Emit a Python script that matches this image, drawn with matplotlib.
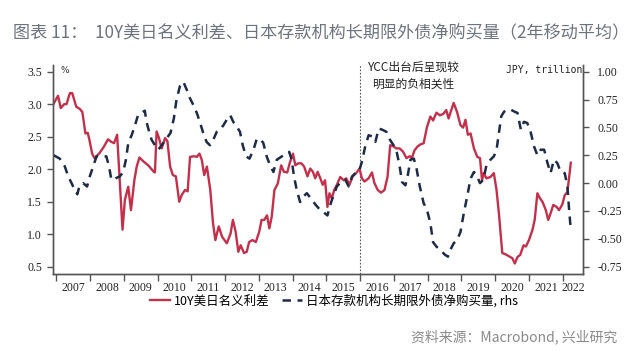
import matplotlib
matplotlib.use("Agg")
import matplotlib.pyplot as plt
from matplotlib.ticker import FixedLocator, NullFormatter, FixedFormatter

plt.rcParams['font.family'] = ['Noto Sans CJK SC', 'DejaVu Sans']

# 10Y US-JP nominal spread (%), left axis
spread_t = [2006.92, 2007.05, 2007.13, 2007.23, 2007.30, 2007.40, 2007.47, 2007.59, 2007.69, 2007.77,
            2007.86, 2007.93, 2007.98, 2008.06, 2008.13, 2008.28, 2008.40, 2008.53, 2008.63, 2008.71,
            2008.80, 2008.86, 2008.96, 2009.03, 2009.13, 2009.21, 2009.31, 2009.38, 2009.46, 2009.58,
            2009.72, 2009.87, 2009.92, 2009.97, 2010.04, 2010.12, 2010.22, 2010.29, 2010.37, 2010.45,
            2010.54, 2010.64, 2010.71, 2010.81, 2010.89, 2010.96, 2011.08, 2011.16, 2011.24, 2011.31,
            2011.38, 2011.46, 2011.56, 2011.64, 2011.71, 2011.81, 2011.91, 2012.05, 2012.16, 2012.23,
            2012.31, 2012.39, 2012.46, 2012.56, 2012.64, 2012.71, 2012.81, 2012.91, 2013.01, 2013.08,
            2013.16, 2013.24, 2013.31, 2013.38, 2013.46, 2013.56, 2013.66, 2013.74, 2013.84, 2013.91,
            2014.01, 2014.08, 2014.16, 2014.26, 2014.34, 2014.44, 2014.52, 2014.60, 2014.67, 2014.74,
            2014.82, 2014.89, 2014.96, 2015.03, 2015.09, 2015.16, 2015.23, 2015.31, 2015.41, 2015.51,
            2015.59, 2015.68, 2015.78, 2015.88, 2015.98, 2016.05, 2016.13, 2016.25, 2016.35, 2016.42,
            2016.52, 2016.62, 2016.72, 2016.81, 2016.89, 2016.99, 2017.07, 2017.17, 2017.27, 2017.37,
            2017.47, 2017.53, 2017.61, 2017.70, 2017.78, 2017.88, 2017.98, 2018.08, 2018.16, 2018.26,
            2018.36, 2018.46, 2018.55, 2018.62, 2018.68, 2018.77, 2018.87, 2018.97, 2019.05, 2019.12,
            2019.19, 2019.27, 2019.37, 2019.47, 2019.55, 2019.61, 2019.66, 2019.74, 2019.86, 2019.96,
            2020.04, 2020.11, 2020.21, 2020.31, 2020.41, 2020.51, 2020.58, 2020.66, 2020.74, 2020.84,
            2020.91, 2021.00, 2021.10, 2021.17, 2021.25, 2021.33, 2021.40, 2021.50, 2021.57, 2021.64,
            2021.72, 2021.82, 2021.89, 2021.99, 2022.06, 2022.14, 2022.24]
spread = [3.01, 3.13, 2.94, 3.00, 3.00, 3.17, 3.17, 2.96, 2.93, 2.88,
          2.55, 2.56, 2.45, 2.24, 2.17, 2.25, 2.34, 2.46, 2.42, 2.40,
          2.53, 1.99, 1.07, 1.53, 1.73, 1.37, 1.83, 2.04, 2.18, 2.12,
          2.06, 1.97, 1.95, 2.58, 2.48, 2.32, 2.48, 2.43, 2.04, 1.91,
          1.89, 1.50, 1.60, 1.68, 1.66, 2.19, 2.20, 2.19, 2.24, 2.14,
          1.91, 2.04, 1.68, 1.17, 0.91, 1.12, 0.96, 0.86, 1.01, 1.22,
          1.04, 0.73, 0.83, 0.71, 0.73, 0.88, 0.91, 0.88, 1.04, 1.22,
          1.22, 1.29, 1.09, 1.27, 1.68, 1.78, 2.06, 1.96, 1.95, 2.09,
          2.24, 2.06, 2.09, 2.09, 2.04, 1.89, 2.01, 1.96, 1.86, 1.96,
          1.86, 1.76, 1.83, 1.42, 1.63, 1.55, 1.68, 1.76, 1.88, 1.83,
          1.86, 1.76, 1.89, 1.94, 2.01, 1.86, 1.81, 1.86, 1.95, 1.79,
          1.68, 1.64, 1.68, 1.88, 2.37, 2.35, 2.32, 2.32, 2.27, 2.17,
          2.20, 2.17, 2.29, 2.35, 2.38, 2.40, 2.65, 2.81, 2.75, 2.87,
          2.83, 2.85, 2.91, 2.78, 2.88, 3.02, 2.88, 2.68, 2.64, 2.76,
          2.53, 2.55, 2.32, 2.19, 2.17, 1.83, 1.94, 1.86, 1.88, 1.94,
          1.68, 1.32, 0.71, 0.69, 0.66, 0.63, 0.55, 0.65, 0.68, 0.83,
          0.81, 0.91, 1.06, 1.22, 1.63, 1.55, 1.50, 1.37, 1.22, 1.32,
          1.45, 1.42, 1.37, 1.46, 1.60, 1.65, 2.10]

# Japanese depository institutions' net purchases of long-term foreign bonds (JPY trn), right axis
flow_t = [2006.92, 2007.10, 2007.25, 2007.35, 2007.45, 2007.54, 2007.62, 2007.69, 2007.79, 2007.91,
          2007.99, 2008.09, 2008.19, 2008.29, 2008.38, 2008.48, 2008.56, 2008.63, 2008.73, 2008.88,
          2008.98, 2009.06, 2009.13, 2009.23, 2009.32, 2009.42, 2009.52, 2009.62, 2009.67, 2009.75,
          2009.82, 2009.92, 2010.02, 2010.12, 2010.26, 2010.38, 2010.48, 2010.56, 2010.66, 2010.76,
          2010.86, 2010.96, 2011.06, 2011.16, 2011.25, 2011.35, 2011.45, 2011.55, 2011.65, 2011.75,
          2011.85, 2011.95, 2012.05, 2012.15, 2012.24, 2012.34, 2012.44, 2012.52, 2012.62, 2012.72,
          2012.84, 2012.93, 2013.03, 2013.13, 2013.23, 2013.33, 2013.43, 2013.53, 2013.68, 2013.82,
          2013.90, 2013.97, 2014.04, 2014.12, 2014.22, 2014.32, 2014.42, 2014.52, 2014.67, 2014.81,
          2014.91, 2015.03, 2015.13, 2015.21, 2015.31, 2015.43, 2015.56, 2015.66, 2015.76, 2015.86,
          2015.96, 2016.05, 2016.15, 2016.25, 2016.35, 2016.45, 2016.55, 2016.65, 2016.78, 2016.88,
          2016.99, 2017.09, 2017.17, 2017.24, 2017.34, 2017.41, 2017.49, 2017.59, 2017.67, 2017.76,
          2017.88, 2017.98, 2018.08, 2018.16, 2018.26, 2018.38, 2018.50, 2018.60, 2018.67, 2018.77,
          2018.87, 2018.97, 2019.07, 2019.17, 2019.27, 2019.37, 2019.45, 2019.55, 2019.65, 2019.74,
          2019.86, 2019.96, 2020.04, 2020.11, 2020.18, 2020.26, 2020.36, 2020.46, 2020.58, 2020.66,
          2020.76, 2020.85, 2020.95, 2021.05, 2021.15, 2021.25, 2021.35, 2021.45, 2021.55, 2021.64,
          2021.74, 2021.84, 2021.94, 2022.06, 2022.14, 2022.19, 2022.24]
flow = [0.25, 0.22, 0.15, 0.06, 0.00, -0.06, -0.10, -0.02, 0.00, -0.03,
        0.06, 0.15, 0.24, 0.24, 0.24, 0.24, 0.15, 0.03, 0.04, 0.06,
        0.10, 0.21, 0.36, 0.43, 0.51, 0.61, 0.63, 0.65, 0.55, 0.46,
        0.39, 0.34, 0.30, 0.34, 0.40, 0.45, 0.58, 0.75, 0.87, 0.91,
        0.84, 0.76, 0.70, 0.63, 0.55, 0.45, 0.37, 0.34, 0.39, 0.46,
        0.48, 0.52, 0.57, 0.61, 0.55, 0.51, 0.46, 0.34, 0.24, 0.22,
        0.30, 0.39, 0.40, 0.36, 0.24, 0.16, 0.10, 0.21, 0.24, 0.27,
        0.28, 0.21, 0.06, -0.06, -0.17, -0.12, -0.09, -0.13, -0.19, -0.24,
        -0.26, -0.29, -0.18, -0.11, -0.03, 0.01, 0.03, -0.03, 0.06, 0.09,
        0.10, 0.19, 0.33, 0.43, 0.42, 0.37, 0.49, 0.48, 0.46, 0.39,
        0.34, 0.27, 0.15, 0.01, -0.02, 0.07, 0.21, 0.22, 0.13, -0.02,
        -0.18, -0.24, -0.36, -0.53, -0.57, -0.60, -0.64, -0.66, -0.60, -0.54,
        -0.51, -0.44, -0.27, -0.12, 0.04, 0.10, 0.07, 0.00, 0.03, 0.16,
        0.21, 0.24, 0.30, 0.45, 0.60, 0.64, 0.66, 0.66, 0.64, 0.63,
        0.48, 0.55, 0.54, 0.46, 0.33, 0.25, 0.30, 0.30, 0.18, 0.09,
        0.21, 0.18, 0.10, 0.09, -0.03, -0.24, -0.42]

years = list(range(2007, 2023))
year_labels = [str(y) for y in years]

RED = '#c2304c'
NAVY = '#1e2b47'
AX = '#555555'
serif = 'Liberation Serif'

fig = plt.figure(figsize=(6.4, 3.63), dpi=100)
ax = fig.add_axes([0.0828, 0.2452, 0.8286, 0.5757])
ax2 = ax.twinx()

l1, = ax.plot(spread_t, spread, color=RED, lw=1.7, label='10Y美日名义利差', zorder=3)
l2, = ax2.plot(flow_t, flow, color=NAVY, lw=1.8, dashes=(3.4, 2.6), label='日本存款机构长期限外债净购买量, rhs')

ax.set_xlim(2006.9, 2022.61)
ax.set_ylim(0.388, 3.603)
ax2.set_ylim(-0.8155, 1.06)

ax.set_yticks([0.5, 1.0, 1.5, 2.0, 2.5, 3.0, 3.5])
ax.set_yticklabels(['0.5', '1.0', '1.5', '2.0', '2.5', '3.0', '3.5'])
ax2.set_yticks([-0.75, -0.5, -0.25, 0.0, 0.25, 0.5, 0.75, 1.0])
ax2.set_yticklabels(['-0.75', '-0.50', '-0.25', '0.00', '0.25', '0.50', '0.75', '1.00'])

ax.xaxis.set_major_locator(FixedLocator(years))
ax.xaxis.set_major_formatter(NullFormatter())
ax.xaxis.set_minor_locator(FixedLocator([y + 0.5 if y < 2022 else 2022.3 for y in years]))
ax.xaxis.set_minor_formatter(FixedFormatter(year_labels))
ax.tick_params(axis='x', which='major', direction='out', length=5, width=1, color=AX)
ax.tick_params(axis='x', which='minor', length=0, pad=5.5, labelsize=8.5, labelcolor='#222222')
ax.tick_params(axis='y', direction='out', length=4, width=1, color=AX, labelsize=8.5,
               labelcolor='#222222', pad=4)
ax2.tick_params(axis='y', direction='out', length=4, width=1, color=AX, labelsize=8.5,
                labelcolor='#222222', pad=6)
for lab in ax.get_xticklabels(minor=True) + ax.get_yticklabels() + ax2.get_yticklabels():
    lab.set_fontfamily(serif)

for a in (ax, ax2):
    a.spines['top'].set_visible(False)
    for s in ('left', 'right', 'bottom'):
        a.spines[s].set_color(AX)
        a.spines[s].set_linewidth(1)

ax.axvline(2016.0, color='#555555', lw=0.8, dashes=(1.5, 1.5))

ax.text(0.014, 0.975, '%', transform=ax.transAxes, fontsize=6.5, ha='left', va='center',
        color='#333333', fontfamily='DejaVu Sans')
ax.text(0.998, 0.975, 'JPY, trillion', transform=ax.transAxes, fontsize=7, ha='right',
        va='center', color='#222222', fontfamily='DejaVu Sans Mono')
ax.text(2017.58, 3.44, 'YCC出台后呈现较\n明显的负相关性', fontsize=8.5, ha='center', va='center',
        color='#222222', linespacing=1.45)

fig.legend(handles=[l1, l2], loc='center', bbox_to_anchor=(334 / 640, 1 - 301 / 363), ncol=2,
           frameon=False, fontsize=9, handlelength=1.6, handletextpad=0.3, columnspacing=1.0,
           borderaxespad=0)

fig.text(13 / 640, 1 - 32 / 363, '图表 11：  10Y美日名义利差、日本存款机构长期限外债净购买量（2年移动平均）',
         fontsize=12.3, color='#6c727e', ha='left', va='center')
fig.text(617 / 640, 1 - 337 / 363, '资料来源：Macrobond, 兴业研究', fontsize=10, color='#8a8a8a',
         ha='right', va='center')

fig.savefig('out.png', dpi=100)
